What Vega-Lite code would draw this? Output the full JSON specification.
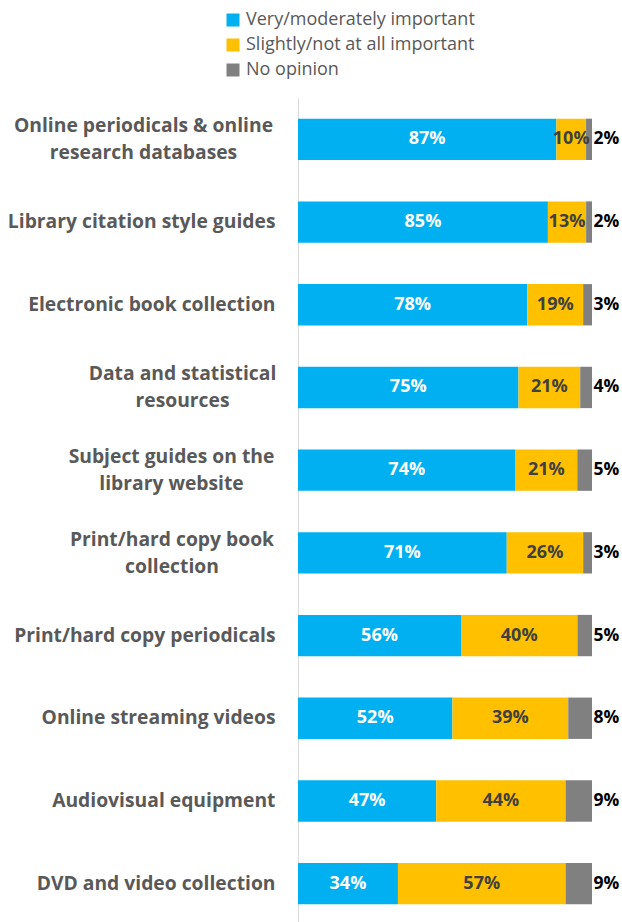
{
  "$schema": "https://vega.github.io/schema/vega-lite/v6.json",
  "autosize": {"type": "none"},
  "padding": {"left": 298, "top": 98, "right": 30, "bottom": 0},
  "width": 294,
  "height": 827,
  "background": "white",
  "config": {"view": {"stroke": null}, "font": "Open Sans"},
  "data": {"values": [
    {"item": "Online periodicals & online|research databases", "series": "Very/moderately important", "order": 1, "v": 0.87},
    {"item": "Online periodicals & online|research databases", "series": "Slightly/not at all important", "order": 2, "v": 0.10},
    {"item": "Online periodicals & online|research databases", "series": "No opinion", "order": 3, "v": 0.02},
    {"item": "Library citation style guides", "series": "Very/moderately important", "order": 1, "v": 0.85},
    {"item": "Library citation style guides", "series": "Slightly/not at all important", "order": 2, "v": 0.13},
    {"item": "Library citation style guides", "series": "No opinion", "order": 3, "v": 0.02},
    {"item": "Electronic book collection", "series": "Very/moderately important", "order": 1, "v": 0.78},
    {"item": "Electronic book collection", "series": "Slightly/not at all important", "order": 2, "v": 0.19},
    {"item": "Electronic book collection", "series": "No opinion", "order": 3, "v": 0.03},
    {"item": "Data and statistical|resources", "series": "Very/moderately important", "order": 1, "v": 0.75},
    {"item": "Data and statistical|resources", "series": "Slightly/not at all important", "order": 2, "v": 0.21},
    {"item": "Data and statistical|resources", "series": "No opinion", "order": 3, "v": 0.04},
    {"item": "Subject guides on the|library website", "series": "Very/moderately important", "order": 1, "v": 0.74},
    {"item": "Subject guides on the|library website", "series": "Slightly/not at all important", "order": 2, "v": 0.21},
    {"item": "Subject guides on the|library website", "series": "No opinion", "order": 3, "v": 0.05},
    {"item": "Print/hard copy book|collection", "series": "Very/moderately important", "order": 1, "v": 0.71},
    {"item": "Print/hard copy book|collection", "series": "Slightly/not at all important", "order": 2, "v": 0.26},
    {"item": "Print/hard copy book|collection", "series": "No opinion", "order": 3, "v": 0.03},
    {"item": "Print/hard copy periodicals", "series": "Very/moderately important", "order": 1, "v": 0.56},
    {"item": "Print/hard copy periodicals", "series": "Slightly/not at all important", "order": 2, "v": 0.40},
    {"item": "Print/hard copy periodicals", "series": "No opinion", "order": 3, "v": 0.05},
    {"item": "Online streaming videos", "series": "Very/moderately important", "order": 1, "v": 0.52},
    {"item": "Online streaming videos", "series": "Slightly/not at all important", "order": 2, "v": 0.39},
    {"item": "Online streaming videos", "series": "No opinion", "order": 3, "v": 0.08},
    {"item": "Audiovisual equipment", "series": "Very/moderately important", "order": 1, "v": 0.47},
    {"item": "Audiovisual equipment", "series": "Slightly/not at all important", "order": 2, "v": 0.44},
    {"item": "Audiovisual equipment", "series": "No opinion", "order": 3, "v": 0.09},
    {"item": "DVD and video collection", "series": "Very/moderately important", "order": 1, "v": 0.34},
    {"item": "DVD and video collection", "series": "Slightly/not at all important", "order": 2, "v": 0.57},
    {"item": "DVD and video collection", "series": "No opinion", "order": 3, "v": 0.09}
  ]},
  "encoding": {
    "y": {
      "field": "item", "type": "nominal", "sort": null, "title": null,
      "scale": {"paddingInner": 0.5, "paddingOuter": 0.25},
      "axis": {
        "labelExpr": "split(datum.label, '|')",
        "labelFont": "Open Sans", "labelFontSize": 19.3, "labelFontWeight": "bold",
        "labelColor": "#595959", "labelLineHeight": 27,
        "labelAlign": {"condition": {"test": "indexof(datum.value, '|') >= 0", "value": "center"}, "value": "right"},
        "labelOffset": {"condition": {"test": "indexof(datum.value, '|') >= 0", "value": -13}, "value": 0},
        "labelPadding": {"condition": [
          {"test": "datum.value === 'Online periodicals & online|research databases'", "value": 155},
          {"test": "datum.value === 'Data and statistical|resources'", "value": 116},
          {"test": "datum.value === 'Subject guides on the|library website'", "value": 127},
          {"test": "datum.value === 'Print/hard copy book|collection'", "value": 126.5}
        ], "value": 23},
        "labelLimit": 320, "ticks": false, "domainColor": "#D9D9D9", "domainWidth": 1
      }
    }
  },
  "layer": [
    {
      "mark": {"type": "bar"},
      "encoding": {
        "x": {"field": "v", "type": "quantitative", "stack": "normalize", "axis": null, "scale": {"domain": [0, 1]}},
        "order": {"field": "order"},
        "color": {
          "field": "series", "type": "nominal",
          "scale": {"domain": ["Very/moderately important", "Slightly/not at all important", "No opinion"], "range": ["#00B0F0", "#FFC000", "#808080"]},
          "legend": {
            "title": null, "orient": "none", "legendX": -74, "legendY": -87, "direction": "vertical",
            "symbolType": "square", "symbolSize": 169, "symbolStrokeWidth": 0, "symbolOpacity": 1,
            "labelFont": "Open Sans", "labelFontSize": 18, "labelColor": "#595959", "labelOffset": 4,
            "rowPadding": 7, "labelLimit": 400
          }
        }
      }
    },
    {
      "mark": {"type": "text", "fontWeight": "bold", "fontSize": 18, "font": "Open Sans"},
      "encoding": {
        "x": {"field": "v", "type": "quantitative", "stack": "normalize", "bandPosition": 0.5},
        "order": {"field": "order"},
        "text": {"condition": {"test": "datum.series === 'No opinion'", "value": ""}, "field": "v", "type": "quantitative", "format": ".0%"},
        "color": {"condition": {"test": "datum.series === 'Very/moderately important'", "value": "white"}, "value": "#404040"}
      }
    },
    {
      "transform": [
        {"stack": "v", "groupby": ["item"], "offset": "normalize", "sort": [{"field": "order", "order": "ascending"}], "as": ["s0", "s1"]},
        {"filter": "datum.series === 'No opinion'"}
      ],
      "mark": {"type": "text", "fontWeight": "bold", "fontSize": 17.5, "font": "Open Sans", "align": "left", "dx": 1.5, "color": "#000000"},
      "encoding": {
        "x": {"field": "s1", "type": "quantitative"},
        "text": {"field": "v", "type": "quantitative", "format": ".0%"}
      }
    }
  ]
}
